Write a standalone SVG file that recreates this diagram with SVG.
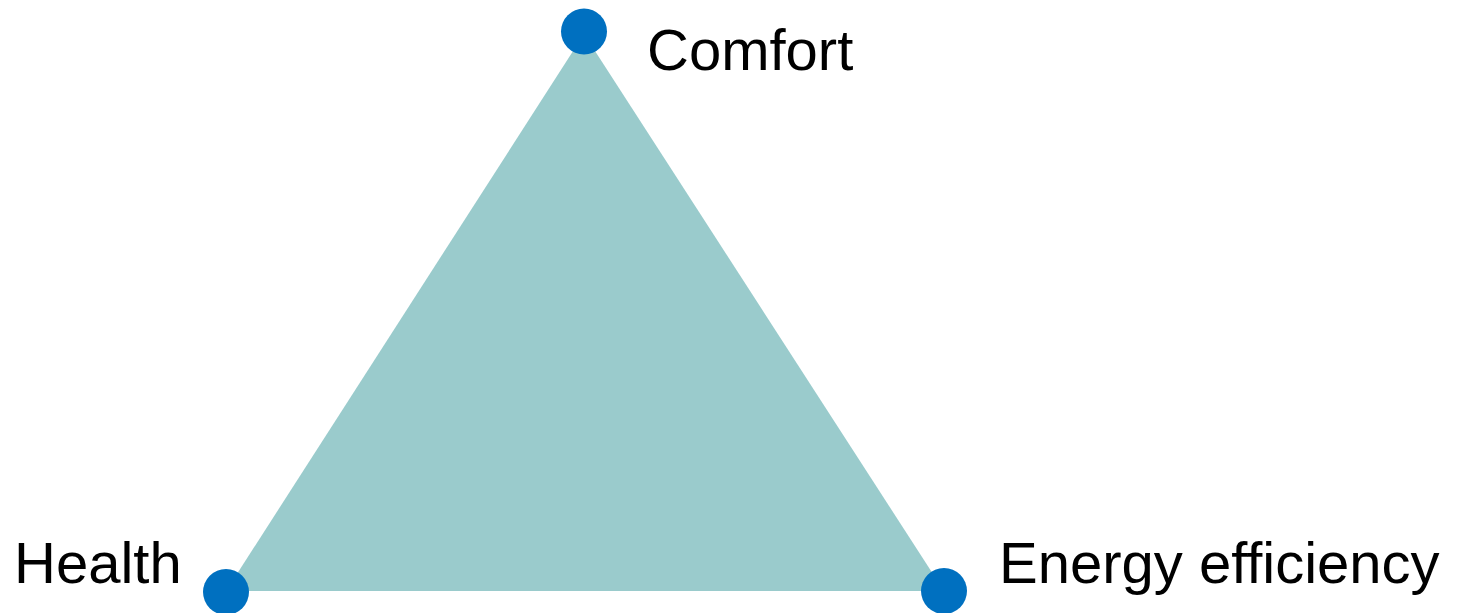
<svg xmlns="http://www.w3.org/2000/svg" width="1460" height="613" viewBox="0 0 1460 613">
<style>
.dot{fill:#0070C0}
.lbl{font-family:"Liberation Sans",Arial,sans-serif;font-size:58px;fill:#000}
</style>
<rect width="1460" height="613" fill="#fff"/>
<g id="triangle"><polygon points="584,34 226,591 944,591" fill="#9ACBCC"/></g>
<g id="connectors"></g>
<g id="comfort"><circle class="dot" cx="584" cy="31.5" r="23"/><text class="lbl" x="647" y="70">Comfort</text></g>
<g id="health"><circle class="dot" cx="226" cy="592" r="23"/><text class="lbl" x="14" y="583">Health</text></g>
<g id="energy"><circle class="dot" cx="944" cy="591" r="23"/><text class="lbl" x="999" y="583">Energy efficiency</text></g>
</svg>
